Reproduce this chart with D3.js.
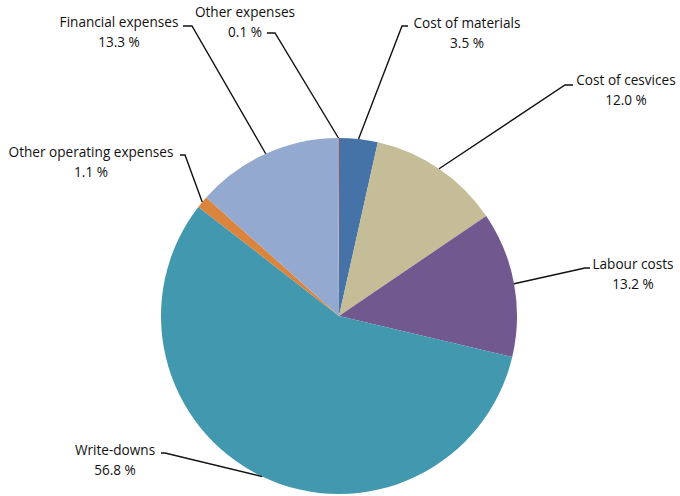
<!DOCTYPE html>
<html>
<head>
<meta charset="utf-8">
<script src="https://cdn.jsdelivr.net/npm/d3@7"></script>
<style>
  html, body { margin: 0; padding: 0; background: #fff; }
  svg { display: block; }
  .lbl { font-family: "Open Sans", sans-serif; font-size: 13.6px; fill: #111; }
</style>
</head>
<body>
<svg id="chart" width="680" height="496"></svg>
<script>
// Expense structure (share of total, %), clockwise from 12 o'clock
const categories = [
  "Cost of materials",
  "Cost of cesvices",
  "Labour costs",
  "Write-downs",
  "Other operating expenses",
  "Financial expenses",
  "Other expenses"
];
const shares = [3.5, 12.0, 13.2, 56.8, 1.1, 13.3, 0.1];
const colors = ["#4572a7", "#c4bd97", "#71588f", "#4198af", "#db843d", "#93a9cf", "#d08a89"];

// Label placement: centre of the name line, leader elbow and leader end
const labelLayout = [
  { cx: 467, cy: 23,  ex: 402, ey: 26,  endX: 408 },
  { cx: 626, cy: 80,  ex: 565, ey: 85,  endX: 573 },
  { cx: 633, cy: 264, ex: 585, ey: 268, endX: 590 },
  { cx: 115, cy: 450, ex: 165, ey: 453, endX: 161 },
  { cx: 91,  cy: 152, ex: 185, ey: 155, endX: 180 },
  { cx: 119, cy: 22,  ex: 192, ey: 26,  endX: 183 },
  { cx: 245, cy: 12,  ex: 275, ey: 33,  endX: 267 }
];

const data = categories.map((name, i) => ({ name, value: shares[i], color: colors[i], layout: labelLayout[i] }));

const svg = d3.select("#chart");
const cx = 339, cy = 316, radius = 178;

const pie = d3.pie().sort(null).value(d => d.value).startAngle(0).endAngle(2 * Math.PI);
const arcs = pie(data);

const arc = d3.arc().innerRadius(0).outerRadius(radius);
const edge = d3.arc().innerRadius(radius).outerRadius(radius);

const g = svg.append("g").attr("transform", `translate(${cx},${cy})`);

g.selectAll("path.slice")
  .data(arcs)
  .join("path")
  .attr("class", "slice")
  .attr("d", arc)
  .attr("fill", d => d.data.color);

// Leader lines from the slice rim to each label
svg.selectAll("path.leader")
  .data(arcs)
  .join("path")
  .attr("class", "leader")
  .attr("fill", "none")
  .attr("stroke", "#111")
  .attr("stroke-width", 1.4)
  .attr("d", d => {
    const [px, py] = edge.centroid(d);
    const L = d.data.layout;
    return `M${cx + px},${cy + py}L${L.ex},${L.ey}L${L.endX},${L.ey}`;
  });

const fmt = d3.format(".1f");
const labels = svg.selectAll("text.lbl")
  .data(arcs)
  .join("text")
  .attr("class", "lbl")
  .attr("text-anchor", "middle");

labels.append("tspan")
  .attr("x", d => d.data.layout.cx)
  .attr("y", d => d.data.layout.cy)
  .attr("dy", "0.35em")
  .text(d => d.data.name);

labels.append("tspan")
  .attr("x", d => d.data.layout.cx)
  .attr("y", d => d.data.layout.cy + 20)
  .attr("dy", "0.35em")
  .text(d => fmt(d.data.value) + " %");
</script>
</body>
</html>
